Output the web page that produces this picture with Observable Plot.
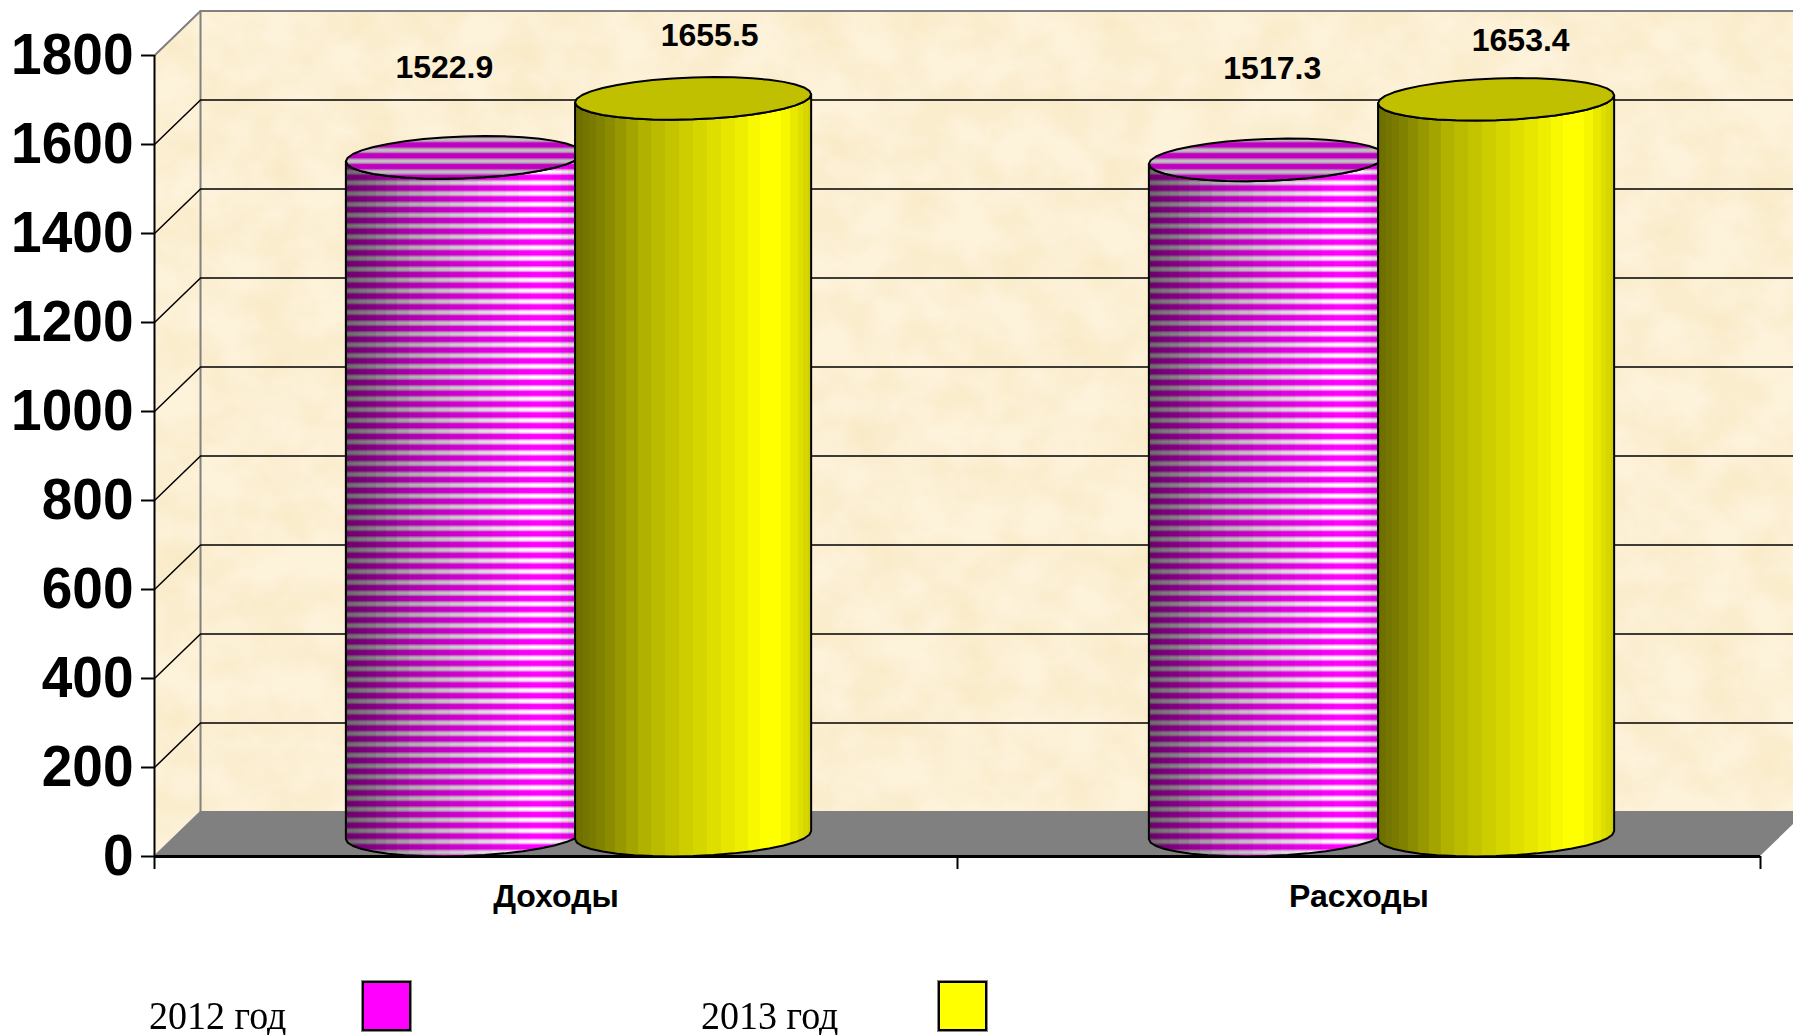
<!DOCTYPE html>
<html><head><meta charset="utf-8">
<script src="https://cdn.jsdelivr.net/npm/d3@7"></script>
<script src="https://cdn.jsdelivr.net/npm/@observablehq/plot@0.6"></script>
<style>
html,body{margin:0;padding:0;background:#fff;width:1793px;height:1035px;overflow:hidden;position:relative}
svg{display:block}
.lg{position:absolute;font:40px/40px "Liberation Serif",serif;color:#000;top:996px;transform:scaleX(.95);transform-origin:left top;white-space:nowrap}
.sw{position:absolute;top:981px;width:45px;height:46px;border:2px solid #000;outline:1px solid #888;outline-offset:-0.5px}
</style></head><body>
<svg width="0" height="0" style="position:absolute">
<defs id="defs"></defs>
</svg>
<div id="chart"></div>
<script>
const categories = ["Доходы", "Расходы"];
const years = ["2012 год", "2013 год"];
const values2012 = [1522.9, 1517.3];
const values2013 = [1655.5, 1653.4];
const yTicks = [0, 200, 400, 600, 800, 1000, 1200, 1400, 1600, 1800];
const colors = ["#ff00ff", "#ffff00"];
const label2012Shift = [-0.025, 0.006];
const label2013Shift = [0.02, 0.03];
const label2012Lift = [250, 254];
const label2013Lift = [190, 180];

// pseudo-3D frame expressed in scale units
const depthX = 0.0573, depthY = 100;
const radiusX = 0.147, radiusY = 47, tilt = 9, seriesGap = 0.1427;
const shadeBrightness = [[0,.42],[.1,.5],[.3,.7],[.5,.82],[.7,.93],[.8,1],[.87,1],[.95,.88],[1,.8]];

// ---- defs: parchment filter, shading gradient, stripes
const bri = d3.scaleLinear(shadeBrightness.map(d=>d[0]), shadeBrightness.map(d=>d[1]));
let stops = "";
const N = 26;
for (let k = 0; k < N; k++) {
  const a = (1 + Math.cos(Math.PI * (1 - k / N))) / 2, b = (1 + Math.cos(Math.PI * (1 - (k + 1) / N))) / 2;
  const op = (1 - bri((a + b) / 2)).toFixed(3);
  stops += `<stop offset="${a}" stop-color="#000" stop-opacity="${op}"/><stop offset="${b}" stop-color="#000" stop-opacity="${op}"/>`;
}
document.getElementById("defs").innerHTML = `
<filter id="parch" filterUnits="userSpaceOnUse" x="0" y="0" width="1793" height="960" color-interpolation-filters="sRGB">
  <feTurbulence type="fractalNoise" baseFrequency="0.02 0.024" numOctaves="4" seed="7" result="n"/>
  <feColorMatrix in="n" type="matrix" values="0 0 0 0 .95  0 0 0 0 .86  0 0 0 0 .62  .6 0 0 0 -.2" result="c"/>
  <feComposite in="c" in2="SourceGraphic" operator="in" result="t"/>
  <feMerge><feMergeNode in="SourceGraphic"/><feMergeNode in="t"/></feMerge>
</filter>
<linearGradient id="shade" x1="0" x2="1" y1="0" y2="0">${stops}</linearGradient>
<linearGradient id="sg" x1="0" x2="0" y1="0" y2="1">
  <stop offset="0" stop-color="#ff00ff" stop-opacity="0"/>
  <stop offset=".12" stop-color="#ff00ff" stop-opacity=".35"/>
  <stop offset=".24" stop-color="#ff00ff" stop-opacity="1"/>
  <stop offset=".6" stop-color="#ff00ff" stop-opacity="1"/>
  <stop offset=".72" stop-color="#ff00ff" stop-opacity=".35"/>
  <stop offset=".86" stop-color="#ff00ff" stop-opacity="0"/>
  <stop offset="1" stop-color="#ff00ff" stop-opacity="0"/>
</linearGradient>
<pattern id="stripes" patternUnits="userSpaceOnUse" width="10" height="10.8">
  <rect width="10" height="10.8" fill="url(#sg)"/>
</pattern>`;

// ---- geometry built from the values
const bars = [];
categories.forEach((c, i) => {
  bars.push({id: "a" + i, s: 0, v: values2012[i], xc: i + .5 + depthX / 2 - seriesGap});
  bars.push({id: "b" + i, s: 1, v: values2013[i], xc: i + .5 + depthX / 2 + seriesGap});
});
const us = d3.range(0, 19).map(k => -Math.cos(Math.PI * k / 18));
const bodyPts = bars.flatMap(b => us.map(u => ({
  id: b.id, s: b.s, x: b.xc + radiusX * u,
  lo: radiusY - radiusY * Math.sqrt(1 - u * u) + tilt * u,
  up: b.v + radiusY - radiusY * Math.sqrt(1 - u * u) + tilt * u,
  top: b.v + radiusY + radiusY * Math.sqrt(1 - u * u) + tilt * u
})));
const mag = bodyPts.filter(d => d.s === 0), yel = bodyPts.filter(d => d.s === 1);

const grid = yTicks.slice(1).flatMap(v => [
  {v, x: 0, y: v}, {v, x: depthX, y: v + depthY}, {v, x: 2 + depthX, y: v + depthY}
]);
const body = (data, fill, extra = {}) => Plot.areaY(data, {x: "x", y1: "lo", y2: "up", z: "id", fill, ...extra});
const cap = (data, fill, extra = {}) => Plot.areaY(data, {x: "x", y1: "up", y2: "top", z: "id", fill, ...extra});

const labels = categories.flatMap((c, i) => [
  {t: values2012[i].toFixed(1), x: i + .5 + depthX / 2 - seriesGap + label2012Shift[i], y: values2012[i] + label2012Lift[i]},
  {t: values2013[i].toFixed(1), x: i + .5 + depthX / 2 + seriesGap + label2013Shift[i], y: values2013[i] + label2013Lift[i]}
]);
const catTicks = categories.map((c, i) => i + .5);
const FONT = "Liberation Sans, Arial, sans-serif";

const svg = Plot.plot({
  width: 1793, height: 960,
  marginLeft: 154, marginRight: 33, marginTop: 55, marginBottom: 104,
  style: {background: "#fff", color: "#000", fontFamily: FONT, overflow: "hidden"},
  x: {domain: [0, 2], range: [154, 1760]},
  y: {domain: [0, 1800], range: [856, 55]},
  marks: [
    // floor
    Plot.area([{a: 0, b: 2, y: 0}, {a: depthX, b: 2 + depthX, y: depthY}],
      {x1: "a", x2: "b", y1: "y", y2: "y", fill: "#808080"}),
    // back wall, side wall
    Plot.rect([0], {x1: depthX, x2: 2.1, y1: depthY, y2: 1800 + depthY, fill: "#fdf2da", imageFilter: "url(#parch)"}),
    Plot.areaY([{x: 0, a: 0, b: 1800}, {x: depthX, a: depthY, b: 1800 + depthY}],
      {x: "x", y1: "a", y2: "b", fill: "#fdf2da", imageFilter: "url(#parch)"}),
    // frame
    Plot.line([{x: 0, y: 0}, {x: depthX, y: depthY}, {x: depthX, y: 1800 + depthY}, {x: 2.1, y: 1800 + depthY}],
      {x: "x", y: "y", stroke: "#808080", strokeWidth: 2}),
    Plot.line([{x: 0, y: 1800}, {x: depthX, y: 1800 + depthY}], {x: "x", y: "y", stroke: "#808080", strokeWidth: 2}),
    Plot.line([{x: depthX, y: depthY}, {x: 2.1, y: depthY}], {x: "x", y: "y", stroke: "#808080", strokeWidth: 2}),
    Plot.line(grid.filter(d => d.v < 1800), {x: "x", y: "y", z: "v", stroke: "#000", strokeWidth: 1.5}),
    Plot.ruleX([0], {y1: 0, y2: 1800, stroke: "#000", strokeWidth: 2}),
    Plot.ruleY([0], {x1: 0, x2: 2, stroke: "#000", strokeWidth: 3}),
    // 2012 cylinders
    body(mag, "#fff"), body(mag, "url(#stripes)"), body(mag, "url(#shade)"),
    body(mag, "none", {stroke: "#000", strokeWidth: 2, strokeLinejoin: "round"}),
    cap(mag, "#fff"), cap(mag, "url(#stripes)"), cap(mag, "#000", {fillOpacity: .25}),
    cap(mag, "none", {stroke: "#000", strokeWidth: 2, strokeLinejoin: "round"}),
    // 2013 cylinders
    body(yel, colors[1]), body(yel, "url(#shade)"),
    body(yel, "none", {stroke: "#000", strokeWidth: 2, strokeLinejoin: "round"}),
    cap(yel, "#c0c000", {stroke: "#000", strokeWidth: 2, strokeLinejoin: "round"}),
    // axes
    Plot.axisY({ticks: yTicks, tickSize: 13, tickPadding: 8, tickFormat: d => String(d),
      fontSize: 57, fontWeight: "bold", fontFamily: FONT, strokeWidth: 2, label: null}),
    Plot.axisX({ticks: [0, 1, 2], tickSize: 13, tickFormat: () => "", strokeWidth: 2, label: null}),
    Plot.axisX({ticks: catTicks, tickSize: 0, tickPadding: 28, tickFormat: d => categories[Math.floor(d)],
      fontSize: 32, fontWeight: "bold", fontFamily: FONT, label: null}),
    // value labels
    Plot.text(labels, {x: "x", y: "y", text: "t", fontSize: 32, fontWeight: "bold", fontFamily: FONT, fill: "#000"})
  ]
});
document.getElementById("chart").appendChild(svg);
// the reference's large tick lettering is narrowed horizontally
svg.querySelectorAll("text").forEach(t => {
  const w = t.getComputedTextLength();
  if (w > 0 && +t.getAttribute("font-size") !== 32 && !t.closest("[font-size='32']")) {
    t.setAttribute("textLength", (w * .965).toFixed(1)); t.setAttribute("lengthAdjust", "spacingAndGlyphs");
  }
});
// legend
const lg = [[149, 362], [701, 938]];
years.forEach((y, i) => {
  const d = document.createElement("div"); d.className = "lg"; d.textContent = y; d.style.left = lg[i][0] + "px"; document.body.appendChild(d);
  const s = document.createElement("div"); s.className = "sw"; s.style.left = lg[i][1] + "px"; s.style.background = colors[i]; document.body.appendChild(s);
});
</script>
</body></html>
